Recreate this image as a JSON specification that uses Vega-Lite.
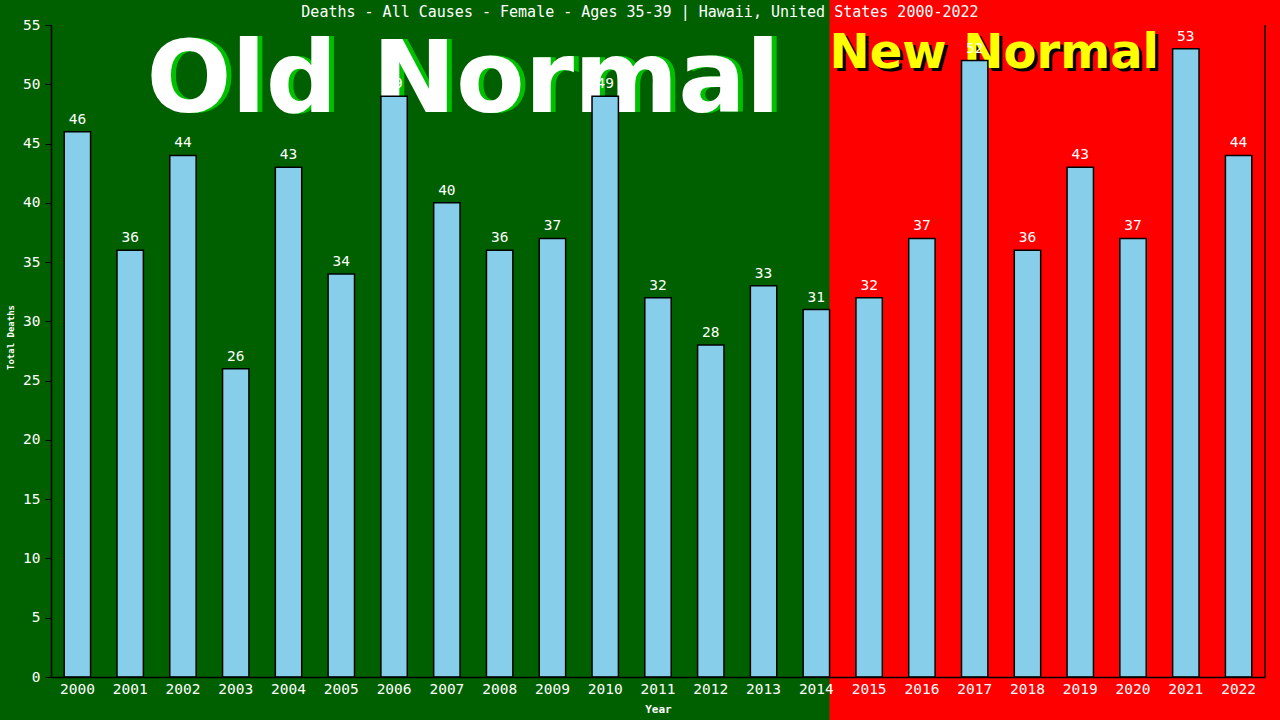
{
  "$schema": "https://vega.github.io/schema/vega-lite/v6.json",
  "width": 1214,
  "height": 652,
  "autosize": {"type": "none"},
  "padding": {"left": 51, "top": 25, "right": 15, "bottom": 43},
  "background": "#006000",
  "title": {
    "text": "Deaths - All Causes - Female - Ages 35-39 | Hawaii, United States 2000-2022",
    "color": "white",
    "font": "DejaVu Sans Mono",
    "fontSize": 15,
    "fontWeight": "normal",
    "anchor": "middle",
    "frame": "group",
    "dx": -18,
    "offset": -21
  },
  "datasets": {
    "deaths": [
      {"year": "2000", "deaths": 46},
      {"year": "2001", "deaths": 36},
      {"year": "2002", "deaths": 44},
      {"year": "2003", "deaths": 26},
      {"year": "2004", "deaths": 43},
      {"year": "2005", "deaths": 34},
      {"year": "2006", "deaths": 49},
      {"year": "2007", "deaths": 40},
      {"year": "2008", "deaths": 36},
      {"year": "2009", "deaths": 37},
      {"year": "2010", "deaths": 49},
      {"year": "2011", "deaths": 32},
      {"year": "2012", "deaths": 28},
      {"year": "2013", "deaths": 33},
      {"year": "2014", "deaths": 31},
      {"year": "2015", "deaths": 32},
      {"year": "2016", "deaths": 37},
      {"year": "2017", "deaths": 52},
      {"year": "2018", "deaths": 36},
      {"year": "2019", "deaths": 43},
      {"year": "2020", "deaths": 37},
      {"year": "2021", "deaths": 53},
      {"year": "2022", "deaths": 44}
    ],
    "eras": [
      {"era": "Old Normal"},
      {"era": "New Normal"}
    ]
  },
  "data": {"name": "deaths"},
  "layer": [
    {
      "data": {"name": "eras"},
      "transform": [{"filter": "datum.era == 'New Normal'"}],
      "mark": {"type": "rect", "color": "#ff0000"},
      "encoding": {
        "x": {"datum": "2014", "type": "ordinal", "bandPosition": 1},
        "x2": {"datum": "2022", "bandPosition": 2.1},
        "y": {"datum": -4, "type": "quantitative", "scale": {"domain": [0, 55], "nice": false}},
        "y2": {"datum": 57.2}
      }
    },
    {
      "data": {"name": "eras"},
      "transform": [{"filter": "datum.era == 'Old Normal'"}],
      "mark": {"type": "text", "font": "DejaVu Sans", "fontWeight": "bold", "fontSize": 100, "color": "#00c000", "align": "center", "baseline": "alphabetic", "dx": 5},
      "encoding": {
        "x": {"datum": "2007", "type": "ordinal", "bandPosition": 1.12},
        "y": {"datum": 47.7, "type": "quantitative"},
        "text": {"field": "era"}
      }
    },
    {
      "data": {"name": "eras"},
      "transform": [{"filter": "datum.era == 'Old Normal'"}],
      "mark": {"type": "text", "font": "DejaVu Sans", "fontWeight": "bold", "fontSize": 100, "color": "white", "align": "center", "baseline": "alphabetic"},
      "encoding": {
        "x": {"datum": "2007", "type": "ordinal", "bandPosition": 1.12},
        "y": {"datum": 47.7, "type": "quantitative"},
        "text": {"field": "era"}
      }
    },
    {
      "data": {"name": "eras"},
      "transform": [{"filter": "datum.era == 'New Normal'"}],
      "mark": {"type": "text", "font": "DejaVu Sans", "fontWeight": "bold", "fontSize": 48, "color": "black", "align": "left", "baseline": "alphabetic", "dx": 3, "dy": 3},
      "encoding": {
        "x": {"datum": "2014", "type": "ordinal", "bandPosition": 1},
        "y": {"datum": 51.4, "type": "quantitative"},
        "text": {"field": "era"}
      }
    },
    {
      "data": {"name": "eras"},
      "transform": [{"filter": "datum.era == 'New Normal'"}],
      "mark": {"type": "text", "font": "DejaVu Sans", "fontWeight": "bold", "fontSize": 48, "color": "#ffff00", "align": "left", "baseline": "alphabetic"},
      "encoding": {
        "x": {"datum": "2014", "type": "ordinal", "bandPosition": 1},
        "y": {"datum": 51.4, "type": "quantitative"},
        "text": {"field": "era"}
      }
    },
    {
      "mark": {"type": "bar", "color": "#87ceeb", "stroke": "black", "strokeWidth": 1.5},
      "encoding": {
        "x": {
          "field": "year",
          "type": "ordinal",
          "title": "Year",
          "scale": {"paddingInner": 0.5, "paddingOuter": 0.25},
          "axis": {
            "bandPosition": 0.5,
            "labelAngle": 0,
            "labelAlign": "center",
            "labelColor": "white",
            "labelFont": "DejaVu Sans Mono",
            "labelFontSize": 14.5,
            "labelPadding": 12,
            "ticks": false,
            "domainColor": "black",
            "domainWidth": 1.5,
            "titleColor": "white",
            "titleFont": "DejaVu Sans Mono",
            "titleFontSize": 11,
            "titleFontWeight": "bold",
            "titlePadding": 8
          }
        },
        "y": {
          "field": "deaths",
          "type": "quantitative",
          "title": "Total Deaths",
          "scale": {"domain": [0, 55], "nice": false},
          "axis": {
            "values": [0, 5, 10, 15, 20, 25, 30, 35, 40, 45, 50, 55],
            "grid": false,
            "labelColor": "white",
            "labelFont": "DejaVu Sans Mono",
            "labelFontSize": 14.5,
            "labelPadding": 5,
            "tickColor": "black",
            "tickSize": 6,
            "domainColor": "black",
            "domainWidth": 1.5,
            "titleColor": "white",
            "titleFont": "DejaVu Sans Mono",
            "titleFontSize": 9,
            "titleFontWeight": "bold",
            "titlePadding": 7,
            "titleY": 312
          }
        }
      }
    },
    {
      "data": {"name": "eras"},
      "transform": [{"filter": "datum.era == 'New Normal'"}],
      "mark": {"type": "rule", "color": "black", "strokeWidth": 1.5},
      "encoding": {
        "x": {"datum": "2022", "type": "ordinal", "bandPosition": 1.5},
        "y": {"datum": 0, "type": "quantitative"},
        "y2": {"datum": 55}
      }
    },
    {
      "mark": {"type": "text", "color": "white", "font": "DejaVu Sans Mono", "fontSize": 14.5, "baseline": "bottom", "dy": -5},
      "encoding": {
        "x": {"field": "year", "type": "ordinal"},
        "y": {"field": "deaths", "type": "quantitative"},
        "text": {"field": "deaths"}
      }
    }
  ],
  "config": {"view": {"stroke": null}}
}
